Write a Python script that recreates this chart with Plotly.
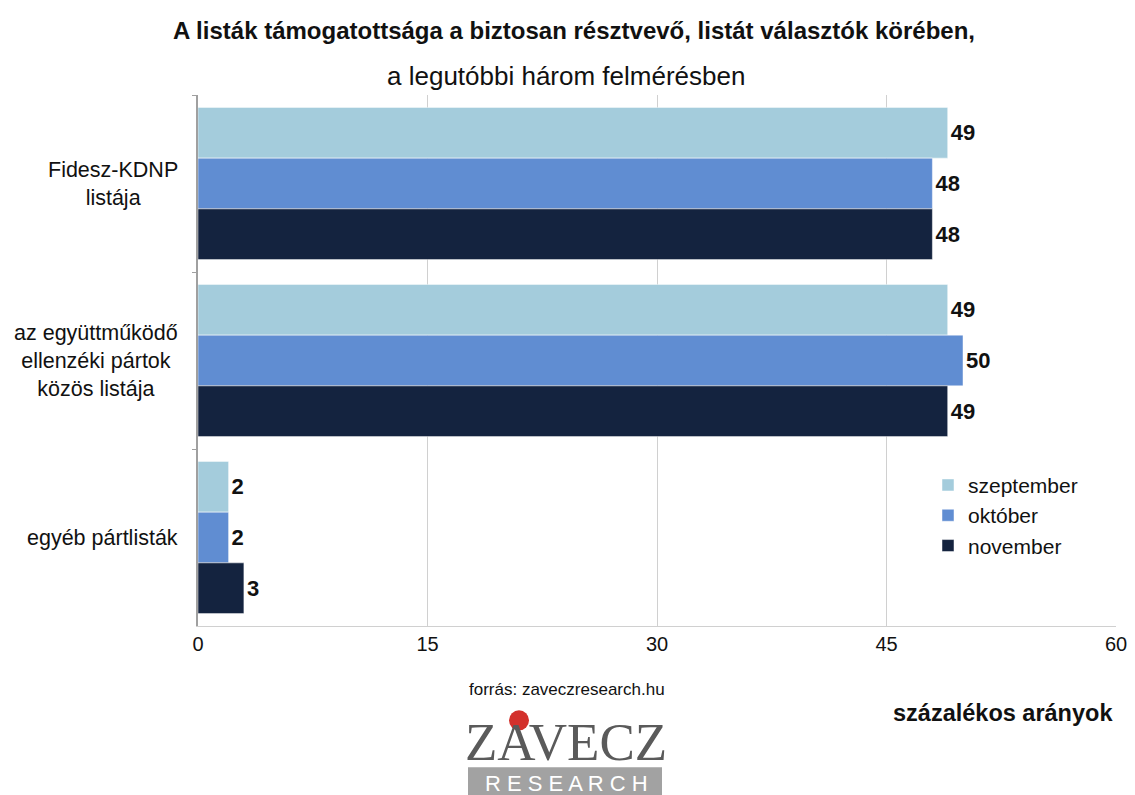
import plotly.graph_objects as go

categories = ["Fidesz-KDNP listája", "az együttműködő ellenzéki pártok közös listája", "egyéb pártlisták"]
category_labels = ["Fidesz-KDNP<br>listája", "az együttműködő<br>ellenzéki pártok<br>közös listája", "egyéb pártlisták"]
series_names = ["szeptember", "október", "november"]
szeptember = [49, 49, 2]
oktober = [48, 50, 2]
november = [48, 49, 3]
x_ticks = [0, 15, 30, 45, 60]
colors = ["#A4CCDC", "#608DD2", "#14233F"]

W, H = 1135, 795
L, R, T, B = 198, 19, 94.5, 168.5
ph = H - T - B
pw = W - L - R
FONT = "Liberation Sans, Arial, Helvetica"


def px(x):
    return (x - L) / pw


def py(y):
    return (H - B - y) / ph


fig = go.Figure()
for name, vals, col in zip(series_names, [szeptember, oktober, november], colors):
    fig.add_trace(go.Bar(
        y=categories, x=vals, name=name, orientation="h",
        marker=dict(color=col, line=dict(color="rgba(255,255,255,0.6)", width=0.8)),
        text=vals, texttemplate="<b>%{x}</b>", textposition="outside",
        textfont=dict(family=FONT, size=22, color="#111111"),
        cliponaxis=False,
    ))

annotations = []
for cat, lab in zip(categories, category_labels):
    annotations.append(dict(x=px(180), xref="paper", y=cat, yref="y", text=lab,
                            showarrow=False, align="center", xanchor="right",
                            font=dict(family=FONT, size=21.5, color="#111111")))

annotations += [
    dict(x=px(574), xref="paper", y=py(30), yref="paper",
         text="<b>A listák támogatottsága a biztosan résztvevő, listát választók körében,</b>",
         showarrow=False, xanchor="center", yanchor="middle",
         font=dict(family=FONT, size=24, color="#111111")),
    dict(x=px(566), xref="paper", y=py(75), yref="paper",
         text="a legutóbbi három felmérésben",
         showarrow=False, xanchor="center", yanchor="middle",
         font=dict(family=FONT, size=26, color="#111111")),
    dict(x=px(567), xref="paper", y=py(690), yref="paper",
         text="forrás: zaveczresearch.hu",
         showarrow=False, xanchor="center", yanchor="middle",
         font=dict(family=FONT, size=17, color="#111111")),
    dict(x=px(1003), xref="paper", y=py(714), yref="paper",
         text="<b>százalékos arányok</b>",
         showarrow=False, xanchor="center", yanchor="middle",
         font=dict(family=FONT, size=23.5, color="#111111")),
    dict(x=px(566), xref="paper", y=py(743), yref="paper",
         text="ZAVECZ", height=44, valign="middle",
         showarrow=False, xanchor="center", yanchor="middle",
         font=dict(family="Liberation Serif, DejaVu Serif", size=53, color="#5A5A5A")),
    dict(x=px(566), xref="paper", y=py(784), yref="paper",
         text="R E S E A R C H", height=24,
         showarrow=False, xanchor="center", yanchor="middle",
         font=dict(family=FONT, size=22, color="#FFFFFF")),
]

shapes = [
    dict(type="circle", xref="paper", yref="paper",
         x0=px(509), x1=px(529), y0=py(731), y1=py(711),
         fillcolor="#D3312C", line=dict(width=0), layer="above"),
    dict(type="rect", xref="paper", yref="paper",
         x0=px(468), x1=px(662), y0=py(796), y1=py(768),
         fillcolor="#A2A2A2", line=dict(width=0), layer="above"),
]

fig.update_layout(
    width=W, height=H, autosize=False,
    margin=dict(l=L, r=R, t=T, b=B, autoexpand=False),
    paper_bgcolor="white", plot_bgcolor="white",
    barmode="group", bargap=0.14, bargroupgap=0,
    showlegend=True,
    legend=dict(x=px(928), y=py(465), xanchor="left", yanchor="top",
                font=dict(family=FONT, size=21, color="#111111"),
                bgcolor="rgba(0,0,0,0)", tracegroupgap=0, traceorder="normal"),
    annotations=annotations,
    shapes=shapes,
    font=dict(family=FONT),
)
fig.update_xaxes(range=[0, 60], tickvals=x_ticks, ticktext=[str(t) for t in x_ticks],
                 showgrid=True, gridcolor="#D0D0D0", gridwidth=1, automargin=False,
                 showline=True, linecolor="#D0D0D0", zeroline=False,
                 ticks="", tickfont=dict(family=FONT, size=20, color="#111111"))
fig.update_yaxes(autorange="reversed", showticklabels=False, showline=True, automargin=False,
                 linecolor="#A0A0A0", linewidth=1.5, ticks="outside", tickson="boundaries",
                 ticklen=4, tickcolor="#A0A0A0", showgrid=False)

fig.write_html("out.html", config={"displayModeBar": False},
               post_script="document.body.style.margin='0px';document.body.style.overflow='hidden';")
